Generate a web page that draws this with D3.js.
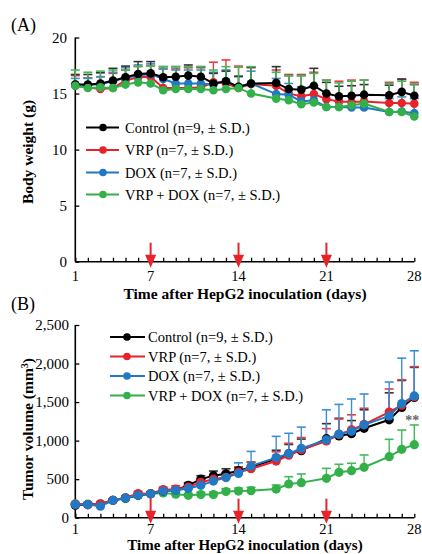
<!DOCTYPE html>
<html><head><meta charset="utf-8">
<script src="https://cdn.jsdelivr.net/npm/d3@7"></script>
<style>body{margin:0;background:#fff}svg{display:block}text{font-family:"Liberation Serif","Times New Roman",serif}</style>
</head><body>
<script>
// ---------- DATA ----------
const daysA = [1,2,3,4,5,6,7,8,9,10,11,12,13,14,15,17,18,19,20,21,22,23,24,26,27,28];
const ctrlW = [15.8,15.8,15.9,16.15,16.45,16.75,16.8,16.45,16.5,16.6,16.5,15.9,16.1,15.6,15.9,15.95,15.4,15.35,15.7,15.0,14.75,14.8,14.9,14.85,15.15,14.8];
const vrpW  = [15.7,15.55,15.4,15.5,16.15,16.45,16.5,15.5,15.5,15.5,15.55,16.0,15.9,15.5,15.85,15.7,15.0,14.75,14.95,14.5,14.3,14.25,14.3,14.15,14.15,14.1];
const doxW  = [15.8,15.75,15.85,16.1,16.4,16.6,16.75,16.3,15.9,15.9,15.9,15.8,16.1,15.6,15.9,14.95,14.9,14.3,14.4,13.8,13.8,13.75,13.75,13.35,13.4,13.25];
const comboW= [15.7,15.5,15.55,15.5,15.8,16.0,15.9,15.3,15.4,15.4,15.4,15.3,15.4,15.5,15.0,14.55,14.4,14.05,14.2,13.8,13.8,13.95,14.1,13.35,13.35,12.95];
const ctrlWsd = [0.9,0.9,0.95,1.1,1.0,1.1,1.05,0.95,0.9,0.95,0.9,0.9,0.9,0.95,1.45,1.45,1.2,1.25,1.55,1.0,0.9,0.9,0.9,0.9,1.15,1.0];
const vrpWsd  = [0.9,0.85,1.1,1.3,0.95,0.95,1.0,1.7,1.7,1.8,1.75,1.8,2.1,1.95,1.45,1.4,1.7,1.95,1.95,1.7,1.8,1.95,1.9,1.85,2.1,1.9];
const doxWsd  = [0.55,0.6,0.65,0.8,0.9,0.95,0.9,0.9,1.2,1.2,1.2,1.1,1.0,0.9,1.1,1.4,1.0,1.3,1.3,1.2,1.0,1.0,1.1,1.2,1.3,1.3];
const comboWsd= [1.4,1.4,1.45,1.6,1.3,1.45,1.55,2.1,2.0,2.0,2.0,1.8,2.0,1.85,2.4,2.35,2.2,2.55,2.6,2.4,2.15,2.15,2.1,2.55,2.75,2.9];

const daysB = [1,2,3,4,5,6,7,8,9,10,11,12,13,14,15,17,18,19,21,22,23,24,26,27,28];
const ctrlV = [160,170,170,226,255,290,310,345,360,420,500,545,570,610,655,765,830,870,1025,1060,1090,1160,1270,1430,1560];
const vrpV  = [175,170,180,226,258,314,312,365,370,398,458,500,525,590,635,735,810,880,995,1080,1140,1210,1370,1460,1570];
const doxV  = [170,170,150,226,255,290,310,345,355,380,420,475,520,575,670,780,830,900,1010,1085,1120,1205,1320,1480,1580];
const comboV= [180,175,180,226,250,290,310,322,305,290,300,300,340,345,350,372,437,455,511,589,610,654,792,887,948];
const ctrlVsd = [15,15,15,20,25,25,25,30,30,35,45,60,65,40,65,110,120,150,195,230,170,240,350,350,390];
const vrpVsd  = [15,15,15,20,25,25,25,30,45,40,45,55,60,70,85,120,155,160,160,200,195,210,300,330,390];
const doxVsd  = [15,15,15,20,25,25,25,30,30,35,45,60,65,137,190,275,265,275,390,385,420,400,440,590,585];
const comboVsd= [15,15,15,15,20,20,20,25,25,25,30,30,35,40,45,52,95,112,129,104,96,160,225,250,255];

const seriesNames = ["Control (n=9, \u00b1 S.D.)","VRP (n=7, \u00b1 S.D.)","DOX (n=7, \u00b1 S.D.)","VRP + DOX (n=7, \u00b1 S.D.)"];
const colors = ["#000000","#e8222a","#2178c4","#33b04a"];
const barColors = ["#333333","#ee3a3f","#3b8fd6","#45b95a"];
const weightTicks = [0,5,10,15,20];
const volumeTicks = [0,500,1000,1500,2000,2500];
const dayLabels = [1,7,14,21,28];
const doseDays = [7,14,21];
const xTitle = "Time after HepG2 inoculation (days)";

// ---------- CHART ----------
const W=422,H=554;
const svg=d3.select("body").append("svg").attr("width",W).attr("height",H);
const x=d3.scaleLinear().domain([1,28]).range([75.3,414.3]);
const yA=d3.scaleLinear().domain([0,20]).range([261.7,37.5]);
const yB=d3.scaleLinear().domain([0,2500]).range([517.7,325]);
const fmt=d3.format(",");

function panel(y, ticks, tickFmt, labelY, xLabelY, xTitleY, titleFs, ylab, cy, panelLab, panelY){
  const g=svg.append("g");
  const xa=d3.axisTop(x).tickValues(d3.range(1,29)).tickSize(4).tickSizeOuter(0).tickFormat("");
  const xg=g.append("g").attr("transform",`translate(0,${y(0)})`).call(xa);
  xg.select(".domain").attr("stroke","#000").attr("stroke-width",1.6).attr("d",`M${x(1)},0H${x(28)}`);
  xg.selectAll(".tick line").attr("stroke","#000").attr("stroke-width",1.3).attr("y2",-4);
  g.selectAll(".xl").data(dayLabels).join("text").attr("x",d=>x(d)).attr("y",xLabelY)
    .attr("text-anchor","middle").attr("font-size",14.5).text(d=>d);
  const ya=d3.axisRight(y).tickValues(ticks).tickSize(4).tickSizeOuter(0).tickFormat("");
  const yg=g.append("g").attr("transform",`translate(${x(1)},0)`).call(ya);
  yg.select(".domain").attr("stroke","#000").attr("stroke-width",1.6).attr("d",`M0,${y(ticks[0])}V${y(ticks[ticks.length-1])}`);
  yg.selectAll(".tick line").attr("stroke","#000").attr("stroke-width",1.3);
  g.selectAll(".yl").data(ticks).join("text").attr("x",labelY).attr("y",d=>y(d)).attr("dy","0.35em")
    .attr("text-anchor","end").attr("font-size",15).text(tickFmt);
  g.append("text").attr("x",245).attr("y",xTitleY).attr("text-anchor","middle").attr("font-size",titleFs)
    .attr("font-weight","bold").text(xTitle);
  g.append("text").attr("transform",`translate(33,${cy}) rotate(-90)`).attr("text-anchor","middle")
    .attr("font-size",15.5).attr("font-weight","bold").html(ylab);
  g.append("text").attr("x",11).attr("y",panelY).attr("font-size",18).text(panelLab);
  doseDays.forEach(d=>{
    const yb=y(0);
    g.append("line").attr("x1",x(d)).attr("x2",x(d)).attr("y1",yb-19).attr("y2",yb-2).attr("stroke","#e8222a").attr("stroke-width",2);
    g.append("path").attr("d",`M${x(d)-5.5},${yb-7}L${x(d)+5.5},${yb-7}L${x(d)},${yb+6}Z`).attr("fill","#e8222a");
  });
  return g;
}

function drawSeries(g, y, days, means, sds, order, r, cap){
  order.forEach(i=>{
    const eg=g.append("g");
    days.forEach((d,j)=>{
      const top=y(means[i][j]+sds[i][j]);
      eg.append("line").attr("x1",x(d)).attr("x2",x(d)).attr("y1",y(means[i][j])).attr("y2",top)
        .attr("stroke",barColors[i]).attr("stroke-width",1.4);
      eg.append("line").attr("x1",x(d)-cap).attr("x2",x(d)+cap).attr("y1",top).attr("y2",top)
        .attr("stroke",barColors[i]).attr("stroke-width",1.6);
    });
  });
  order.forEach(i=>{
    const line=d3.line().x((d,j)=>x(days[j])).y(d=>y(d));
    g.append("path").attr("d",line(means[i])).attr("fill","none").attr("stroke",colors[i]).attr("stroke-width",2);
    g.selectAll(null).data(means[i]).join("circle").attr("cx",(d,j)=>x(days[j])).attr("cy",d=>y(d))
      .attr("r",r).attr("fill",colors[i]);
  });
}

function legend(g, x0, x1, xm, tx, ys, fs){
  seriesNames.forEach((n,i)=>{
    g.append("line").attr("x1",x0).attr("x2",x1).attr("y1",ys[i]).attr("y2",ys[i]).attr("stroke",colors[i]).attr("stroke-width",2);
    g.append("circle").attr("cx",xm).attr("cy",ys[i]).attr("r",3.8).attr("fill",colors[i]);
    g.append("text").attr("x",tx).attr("y",ys[i]).attr("dy","0.35em").attr("font-size",fs).text(n);
  });
}

const gA=panel(yA,weightTicks,d=>d,67,281,299,15.5,"Body weight (g)",152,"(A)",31);
drawSeries(gA,yA,daysA,[ctrlW,vrpW,doxW,comboW],[ctrlWsd,vrpWsd,doxWsd,comboWsd],[1,2,0,3],4.3,4.5);
legend(gA,86,119,103,125,[127.5,150,172.5,194.5],14.5);

const gB=panel(yB,volumeTicks,d=>fmt(d),69,534,550,15,"Tumor volume (mm<tspan baseline-shift='super' font-size='10'>3</tspan>)",429,"(B)",310);
drawSeries(gB,yB,daysB,[ctrlV,vrpV,doxV,comboV],[ctrlVsd,vrpVsd,doxVsd,comboVsd],[3,0,1,2],4.6,4.5);
legend(gB,110,145,127,148,[337,356.5,376,395.5],14.5);
gB.append("text").attr("x",x(28)-2).attr("y",yB(1282)+6).attr("text-anchor","middle").attr("font-size",14)
  .attr("fill","#666").attr("font-weight","bold").text("**");
</script>
</body></html>
